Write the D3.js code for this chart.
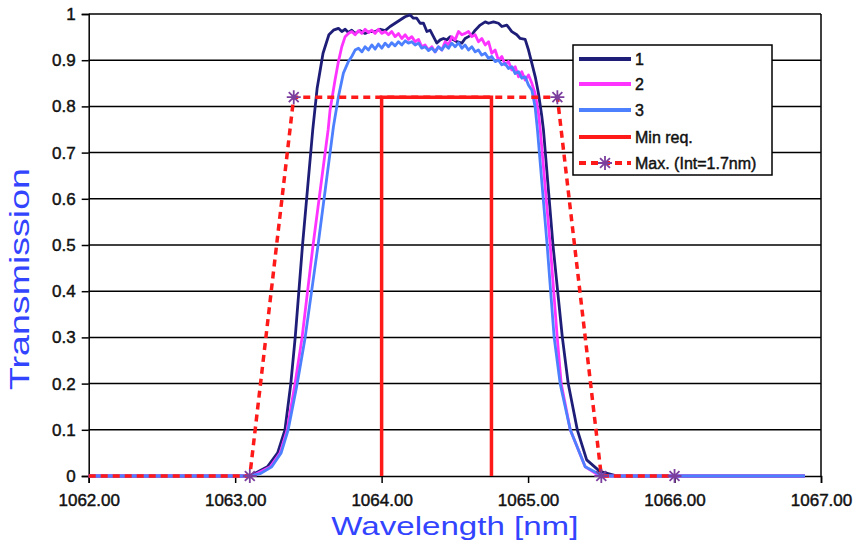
<!DOCTYPE html>
<html>
<head>
<meta charset="utf-8">
<script src="https://cdn.jsdelivr.net/npm/d3@7"></script>
<style>
  html, body { margin: 0; padding: 0; background: #fff; }
  #chart { width: 860px; height: 545px; }
</style>
</head>
<body>
<div id="chart"></div>
<script>
// Measured curves, [wavelength nm, transmission]
var series1 = [[1062.00,0],[1063.10,0],[1063.22,0.02],[1063.29,0.05],[1063.34,0.10],[1063.38,0.20],[1063.41,0.30],[1063.46,0.50],[1063.53,0.75],[1063.56,0.84],[1063.60,0.915],[1063.64,0.955],[1063.671,0.965],[1063.705,0.969],[1063.728,0.962],[1063.751,0.967],[1063.773,0.960],[1063.796,0.965],[1063.819,0.958],[1063.853,0.964],[1063.887,0.958],[1063.921,0.962],[1063.956,0.962],[1063.990,0.967],[1064.024,0.964],[1064.058,0.973],[1064.092,0.980],[1064.126,0.987],[1064.160,0.994],[1064.195,0.998],[1064.217,0.991],[1064.240,0.991],[1064.263,0.980],[1064.286,0.980],[1064.309,0.962],[1064.331,0.965],[1064.354,0.951],[1064.377,0.937],[1064.400,0.944],[1064.422,0.947],[1064.445,0.944],[1064.468,0.951],[1064.491,0.944],[1064.514,0.940],[1064.548,0.937],[1064.570,0.947],[1064.593,0.951],[1064.616,0.955],[1064.639,0.965],[1064.673,0.976],[1064.707,0.983],[1064.730,0.980],[1064.764,0.983],[1064.798,0.980],[1064.821,0.973],[1064.855,0.976],[1064.889,0.962],[1064.923,0.955],[1064.946,0.947],[1064.980,0.945],[1065.003,0.922],[1065.026,0.893],[1065.049,0.864],[1065.071,0.828],[1065.094,0.778],[1065.105,0.749],[1065.17,0.50],[1065.234,0.30],[1065.274,0.20],[1065.336,0.10],[1065.40,0.035],[1065.49,0.01],[1065.61,0],[1066.89,0]];

var series2 = [[1062.00,0],[1063.115,0],[1063.24,0.02],[1063.307,0.05],[1063.355,0.10],[1063.409,0.20],[1063.457,0.30],[1063.532,0.50],[1063.635,0.75],[1063.648,0.792],[1063.682,0.857],[1063.705,0.897],[1063.728,0.929],[1063.751,0.951],[1063.773,0.958],[1063.796,0.962],[1063.819,0.955],[1063.842,0.964],[1063.865,0.958],[1063.887,0.967],[1063.910,0.960],[1063.933,0.965],[1063.956,0.958],[1063.978,0.967],[1064.001,0.958],[1064.024,0.962],[1064.047,0.955],[1064.069,0.962],[1064.092,0.951],[1064.115,0.958],[1064.138,0.947],[1064.161,0.955],[1064.183,0.945],[1064.206,0.951],[1064.229,0.940],[1064.252,0.945],[1064.274,0.929],[1064.297,0.933],[1064.320,0.922],[1064.343,0.929],[1064.365,0.918],[1064.388,0.929],[1064.411,0.922],[1064.434,0.940],[1064.457,0.933],[1064.479,0.951],[1064.502,0.944],[1064.525,0.962],[1064.548,0.955],[1064.570,0.958],[1064.593,0.962],[1064.616,0.951],[1064.639,0.955],[1064.661,0.940],[1064.684,0.947],[1064.707,0.933],[1064.730,0.940],[1064.752,0.915],[1064.775,0.922],[1064.798,0.900],[1064.821,0.908],[1064.843,0.890],[1064.866,0.897],[1064.889,0.879],[1064.912,0.886],[1064.935,0.864],[1064.957,0.875],[1064.980,0.857],[1065.003,0.868],[1065.026,0.850],[1065.048,0.828],[1065.071,0.785],[1065.083,0.749],[1065.151,0.50],[1065.199,0.30],[1065.226,0.20],[1065.288,0.10],[1065.39,0.02],[1065.49,0],[1066.89,0]];

var series3 = [[1062.00,0],[1063.10,0],[1063.17,0.005],[1063.25,0.02],[1063.314,0.05],[1063.362,0.10],[1063.424,0.20],[1063.478,0.30],[1063.566,0.50],[1063.671,0.756],[1063.705,0.821],[1063.739,0.872],[1063.773,0.897],[1063.796,0.908],[1063.819,0.922],[1063.842,0.926],[1063.865,0.918],[1063.887,0.929],[1063.910,0.922],[1063.933,0.933],[1063.956,0.924],[1063.978,0.935],[1064.001,0.926],[1064.024,0.937],[1064.047,0.929],[1064.069,0.938],[1064.092,0.931],[1064.115,0.940],[1064.138,0.933],[1064.161,0.942],[1064.183,0.937],[1064.206,0.940],[1064.229,0.933],[1064.252,0.937],[1064.274,0.926],[1064.297,0.929],[1064.320,0.921],[1064.343,0.926],[1064.365,0.918],[1064.388,0.929],[1064.411,0.922],[1064.434,0.933],[1064.457,0.926],[1064.479,0.937],[1064.502,0.929],[1064.525,0.938],[1064.548,0.926],[1064.570,0.933],[1064.593,0.922],[1064.616,0.929],[1064.639,0.918],[1064.661,0.922],[1064.684,0.911],[1064.707,0.915],[1064.730,0.904],[1064.752,0.908],[1064.775,0.897],[1064.798,0.900],[1064.821,0.890],[1064.843,0.893],[1064.866,0.882],[1064.889,0.886],[1064.912,0.871],[1064.935,0.875],[1064.957,0.861],[1064.980,0.864],[1065.003,0.846],[1065.026,0.835],[1065.048,0.799],[1065.064,0.749],[1065.13,0.50],[1065.178,0.30],[1065.219,0.20],[1065.288,0.10],[1065.39,0.02],[1065.48,0.005],[1065.56,0],[1066.89,0]];

// Spec masks
var minReqWl = [1064.00, 1064.00, 1064.75, 1064.75];
var minReqT = [0, 0.82, 0.82, 0];
var maxWl = [1062.00, 1063.10, 1063.40, 1065.20, 1065.50, 1066.00];
var maxT = [0, 0, 0.82, 0.82, 0, 0];

var xTicks = [1062, 1063, 1064, 1065, 1066, 1067];
var yTicks = [0, 0.1, 0.2, 0.3, 0.4, 0.5, 0.6, 0.7, 0.8, 0.9, 1];
var legendLabels = ['1', '2', '3', 'Min req.', 'Max. (Int=1.7nm)'];

var colors = {
  s1: '#1e1e78',
  s2: '#ff33ff',
  s3: '#4d80ff',
  red: '#ff1a1a',
  star: '#7b3f9e',
  title: '#3344ff'
};

var width = 860, height = 545;
var plot = { left: 88.7, right: 821, top: 14, bottom: 476 };

var svg = d3.select('#chart').append('svg')
  .attr('width', width)
  .attr('height', height)
  .attr('viewBox', [0, 0, width, height]);

var x = d3.scaleLinear().domain([1062, 1067]).range([plot.left, plot.right]);
var y = d3.scaleLinear().domain([0, 1]).range([plot.bottom, plot.top]);

var tickFont = 'Arial, "Liberation Sans", sans-serif';

// Gridlines (including top border at 1)
svg.append('g')
  .selectAll('line')
  .data(yTicks.filter(function (d) { return d > 0; }))
  .join('line')
  .attr('x1', plot.left).attr('x2', plot.right)
  .attr('y1', function (d) { return y(d); })
  .attr('y2', function (d) { return y(d); })
  .attr('stroke', '#000')
  .attr('stroke-width', 1.5);

// Right border
svg.append('line')
  .attr('x1', plot.right).attr('x2', plot.right)
  .attr('y1', plot.top).attr('y2', plot.bottom)
  .attr('stroke', '#000').attr('stroke-width', 1.5);

// Axes
var yAxis = d3.axisLeft(y)
  .tickValues(yTicks)
  .tickSize(7)
  .tickPadding(6)
  .tickFormat(function (d) { return d3.format('~g')(d); });

var xAxis = d3.axisBottom(x)
  .tickValues(xTicks)
  .tickSize(7)
  .tickPadding(11)
  .tickFormat(d3.format('.2f'));

[svg.append('g').attr('transform', 'translate(' + plot.left + ',0)').call(yAxis),
 svg.append('g').attr('transform', 'translate(0,' + plot.bottom + ')').call(xAxis)
].forEach(function (g) {
  g.select('.domain').attr('stroke', '#000').attr('stroke-width', 1.5);
  g.selectAll('.tick line').attr('stroke', '#000').attr('stroke-width', 1.5);
  g.selectAll('.tick text')
    .attr('fill', '#111')
    .attr('stroke', '#111')
    .attr('stroke-width', 0.45)
    .attr('font-family', tickFont)
    .attr('font-size', 17);
});

// Curves
var line = d3.line()
  .x(function (d) { return x(d[0]); })
  .y(function (d) { return y(d[1]); });

[[series1, colors.s1], [series2, colors.s2], [series3, colors.s3]].forEach(function (s) {
  svg.append('path')
    .datum(s[0])
    .attr('d', line)
    .attr('fill', 'none')
    .attr('stroke', s[1])
    .attr('stroke-width', 2.8)
    .attr('stroke-linejoin', 'round');
});

// Min req. (solid red)
var minPts = minReqWl.map(function (w, i) { return [w, minReqT[i]]; });
svg.append('path')
  .datum(minPts)
  .attr('d', line)
  .attr('fill', 'none')
  .attr('stroke', colors.red)
  .attr('stroke-width', 3.5);

// Max. (dashed red with asterisks)
var maxPts = maxWl.map(function (w, i) { return [w, maxT[i]]; });
svg.append('path')
  .datum(maxPts)
  .attr('d', line)
  .attr('fill', 'none')
  .attr('stroke', colors.red)
  .attr('stroke-width', 3.5)
  .attr('stroke-dasharray', '7,5');

function asterisk(r) {
  var p = '';
  for (var i = 0; i < 4; i++) {
    var a = Math.PI / 4 * i;
    var dx = r * Math.cos(a), dy = r * Math.sin(a);
    p += 'M' + (-dx) + ',' + (-dy) + 'L' + dx + ',' + dy;
  }
  return p;
}

svg.append('g')
  .selectAll('path')
  .data(maxPts.slice(1))
  .join('path')
  .attr('transform', function (d) { return 'translate(' + x(d[0]) + ',' + y(d[1]) + ')'; })
  .attr('d', asterisk(7))
  .attr('stroke', colors.star)
  .attr('stroke-width', 1.8)
  .attr('fill', 'none');

// Legend
var legend = svg.append('g').attr('transform', 'translate(573,45)');
legend.append('rect')
  .attr('width', 199).attr('height', 130)
  .attr('fill', '#fff')
  .attr('stroke', '#000')
  .attr('stroke-width', 1.5);

var legendRows = [
  { stroke: colors.s1, dash: null, star: false },
  { stroke: colors.s2, dash: null, star: false },
  { stroke: colors.s3, dash: null, star: false },
  { stroke: colors.red, dash: null, star: false },
  { stroke: colors.red, dash: '7,5', star: true }
];
var rowY = [14, 39, 65, 92, 118];

legendRows.forEach(function (r, i) {
  var g = legend.append('g').attr('transform', 'translate(0,' + rowY[i] + ')');
  g.append('line')
    .attr('x1', 6).attr('x2', 58)
    .attr('stroke', r.stroke)
    .attr('stroke-width', 4)
    .attr('stroke-dasharray', r.dash);
  if (r.star) {
    g.append('path')
      .attr('transform', 'translate(32,0)')
      .attr('d', asterisk(7))
      .attr('stroke', colors.star)
      .attr('stroke-width', 1.8);
  }
  g.append('text')
    .attr('x', 62).attr('y', 6)
    .attr('font-family', tickFont)
    .attr('font-size', 16)
    .attr('fill', '#111')
    .attr('stroke', '#111')
    .attr('stroke-width', 0.45)
    .text(legendLabels[i]);
});

// Axis titles
svg.append('text')
  .attr('x', (plot.left + plot.right) / 2)
  .attr('y', 535)
  .attr('text-anchor', 'middle')
  .attr('font-family', tickFont)
  .attr('font-size', 26)
  .attr('fill', colors.title)
  .attr('textLength', 247)
  .attr('lengthAdjust', 'spacingAndGlyphs')
  .text('Wavelength [nm]');

svg.append('text')
  .attr('transform', 'translate(29,279) rotate(-90)')
  .attr('text-anchor', 'middle')
  .attr('font-family', tickFont)
  .attr('font-size', 28)
  .attr('fill', colors.title)
  .attr('textLength', 222)
  .attr('lengthAdjust', 'spacingAndGlyphs')
  .text('Transmission');
</script>
</body>
</html>
